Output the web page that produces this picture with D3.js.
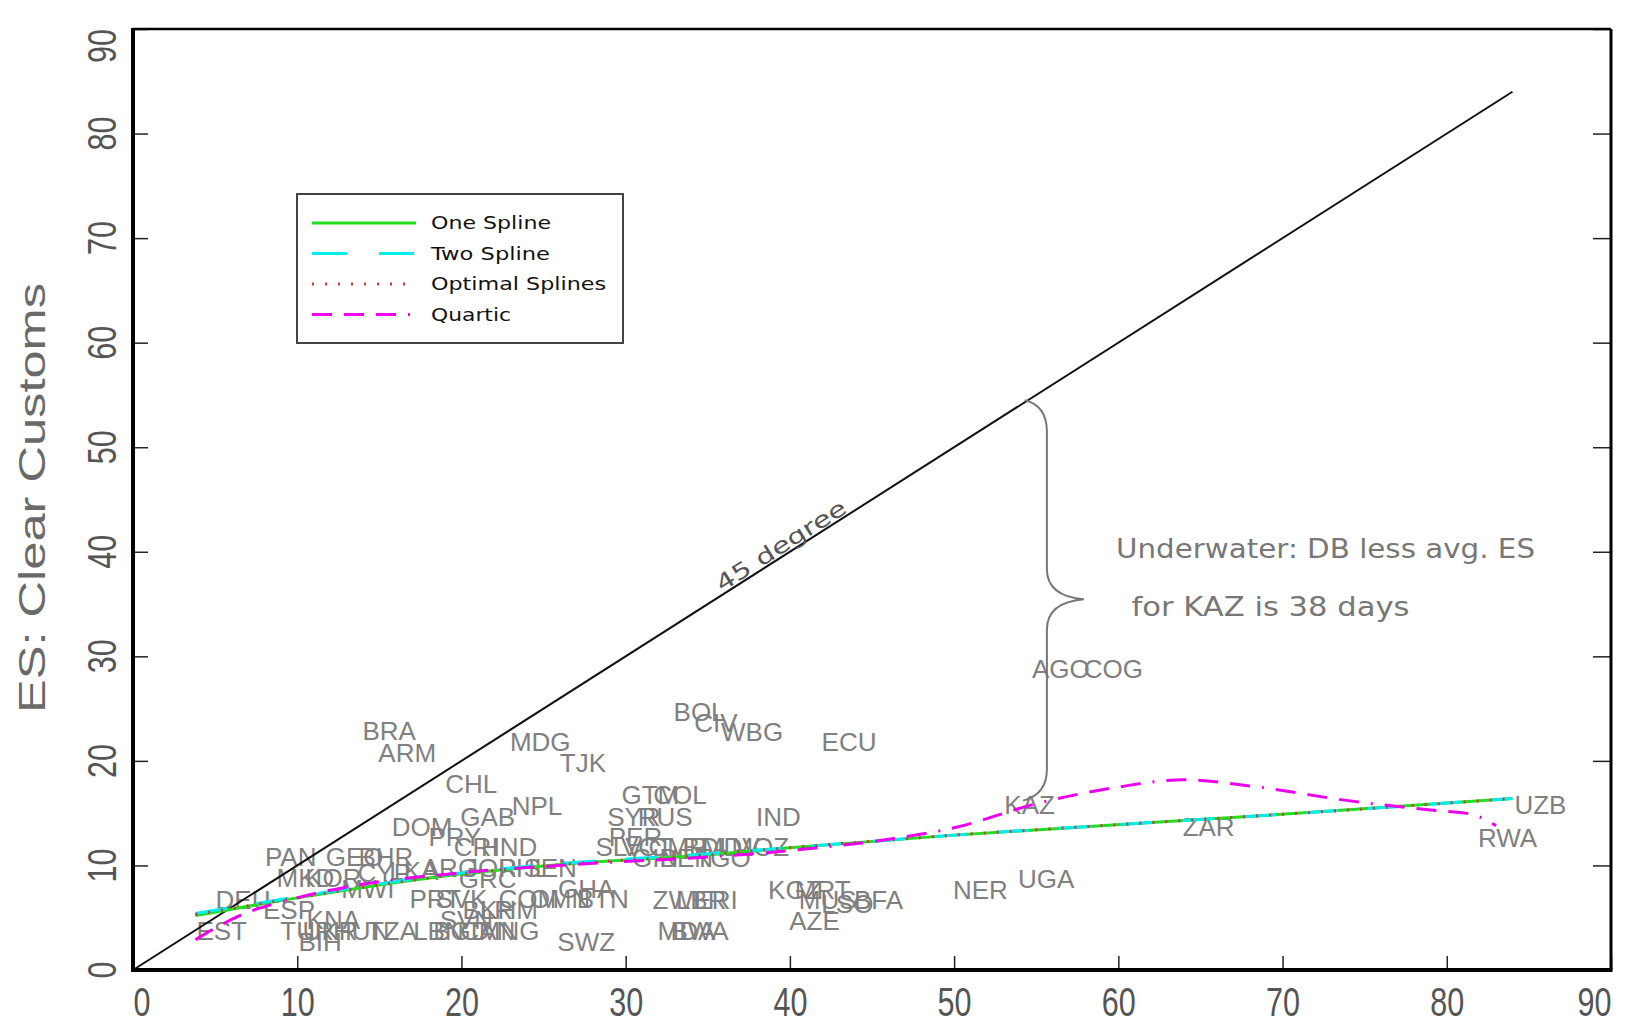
<!DOCTYPE html>
<html>
<head>
<meta charset="utf-8">
<script src="https://cdn.jsdelivr.net/npm/d3@7"></script>
<style>
  body { margin: 0; background: #fff; }
  svg text { font-family: "Liberation Sans", Arial, sans-serif; }
  .hershey { font-family: "DejaVu Sans", "Liberation Sans", sans-serif; }
</style>
</head>
<body>
<svg id="chart" width="1644" height="1025"></svg>
<script>
// ---- data ----
const xTicks = [0, 10, 20, 30, 40, 50, 60, 70, 80, 90];
const yTicks = [0, 10, 20, 30, 40, 50, 60, 70, 80, 90];

// [code, DB days (x), ES days (y)]
const countries = [
  ["BRA", 15.6, 22.9], ["ARM", 16.7, 20.8], ["MDG", 24.8, 21.8], ["TJK", 27.4, 19.8],
  ["CHL", 20.6, 17.8], ["NPL", 24.6, 15.7], ["GAB", 21.6, 14.7], ["DOM", 17.6, 13.7],
  ["PRY", 19.6, 12.8], ["CRI", 20.9, 11.8], ["HND", 22.9, 11.8], ["PAN", 9.6, 10.8],
  ["GEO", 13.5, 10.8], ["BHR", 15.4, 10.8], ["MKD", 10.5, 8.8], ["KOR", 12.2, 8.8],
  ["CYP", 15.3, 9.3], ["LKA", 17.1, 9.5], ["ARG", 19.3, 9.8], ["JOR", 21.8, 9.8],
  ["PHL", 23.8, 9.8], ["SEN", 25.4, 9.8], ["MWI", 14.3, 7.8], ["GRC", 21.6, 8.7],
  ["DEU", 6.7, 6.7], ["PRT", 18.4, 6.8], ["SVK", 20.0, 6.8], ["COM", 24.1, 6.8],
  ["OMN", 26.0, 6.8], ["BTN", 28.6, 6.8], ["GHA", 27.6, 7.8], ["ESP", 9.5, 5.8],
  ["KNA", 12.2, 4.8], ["BLR", 21.6, 5.8], ["KHM", 22.9, 5.8], ["SVN", 20.3, 4.8],
  ["EST", 5.4, 3.8], ["TUR", 10.6, 3.8], ["UKR", 12.0, 3.8], ["HUN", 13.9, 3.8],
  ["TZA", 15.8, 3.8], ["LBN", 18.6, 3.8], ["BGD", 20.0, 3.8], ["CAN", 21.6, 3.8],
  ["MNG", 22.9, 3.8], ["BIH", 11.4, 2.7], ["SWZ", 27.6, 2.7],
  ["GTM", 31.5, 16.8], ["COL", 33.3, 16.8], ["SYR", 30.5, 14.7], ["RUS", 32.4, 14.7],
  ["PER", 30.6, 12.8], ["SLV", 29.6, 11.8], ["VCT", 31.3, 11.8], ["CMR", 33.2, 11.8],
  ["BDI", 34.8, 11.8], ["MDV", 36.4, 11.8], ["MOZ", 38.2, 11.8], ["GIN", 31.8, 10.7],
  ["BEN", 33.7, 10.7], ["TGO", 35.9, 10.7], ["IND", 39.3, 14.7], ["BOL", 34.5, 24.7],
  ["CIV", 35.5, 23.7], ["WBG", 37.7, 22.8], ["ECU", 43.6, 21.8], ["ZWE", 33.4, 6.7],
  ["LBR", 34.6, 6.7], ["ERI", 35.5, 6.7], ["MDA", 33.7, 3.8], ["BWA", 34.5, 3.8],
  ["KGZ", 40.3, 7.7], ["MRT", 42.0, 7.7], ["MUS", 42.3, 6.7], ["LSO", 43.5, 6.3],
  ["BFA", 45.4, 6.7], ["AZE", 41.5, 4.7], ["NER", 51.6, 7.7], ["UGA", 55.6, 8.7],
  ["AGO", 56.5, 28.8], ["COG", 59.7, 28.8], ["KAZ", 54.6, 15.8], ["ZAR", 65.5, 13.7],
  ["UZB", 85.7, 15.8], ["RWA", 83.7, 12.7]
];

const oneSpline = [[3.8, 5.2], [10, 6.9], [19, 9.0], [27, 10.2], [34, 10.9], [40, 11.7],
  [50, 12.9], [62, 14.1], [72, 15.1], [84, 16.4]];
const twoSpline = [[3.8, 5.4], [10, 7.0], [19, 9.1], [27, 10.3], [34, 11.0], [40, 11.7],
  [50, 12.9], [62, 14.1], [72, 15.1], [84, 16.4]];
const optimalSplines = [[3.8, 5.3], [10, 6.9], [19, 9.0], [27, 10.2], [34, 10.9], [40, 11.7],
  [50, 12.9], [62, 14.1], [72, 15.1], [84, 16.4]];
const quartic = [[3.8, 2.9], [6.5, 5.2], [10, 6.9], [14, 8.2], [20, 9.3], [28, 10.2],
  [35, 10.8], [40.5, 11.5], [46, 12.5], [50, 13.6], [55, 15.9], [60, 17.5], [64, 18.2],
  [68, 17.6], [74, 16.2], [79, 15.3], [81.5, 14.9], [83, 13.8]];
const diagonal = [[0, 0], [84, 84]];

// KAZ gap: 45 degree line down to the fitted curve
const kazGap = { x: 54.4, top: 54.5, bottom: 16.2, tipX: 57.9 };

const legendNames = ["One Spline", "Two Spline", "Optimal Splines", "Quartic"];
const noteLines = ["Underwater: DB less avg. ES", "for KAZ is 38 days"];

// ---- drawing ----
const svg = d3.select("#chart");
const x = d3.scaleLinear().domain([0, 90]).range([133, 1611]);
const y = d3.scaleLinear().domain([0, 90]).range([970, 29]);

const gray = "#808080";

// bottom ticks + labels
const xAxis = svg.append("g")
  .attr("transform", `translate(0,${y(0)})`)
  .call(d3.axisBottom(x).tickValues(xTicks).tickSize(-14).tickPadding(18));
xAxis.select(".domain").remove();
xAxis.selectAll("line").attr("stroke", "#222").attr("stroke-width", 1.5);
xAxis.selectAll("text")
  .attr("font-size", 40)
  .attr("fill", "#555")
  .attr("font-family", "Liberation Sans, Arial, sans-serif")
  .attr("text-anchor", d => d === 0 ? "start" : d === 90 ? "end" : "middle")
  .attr("textLength", d => String(d).length * 17)
  .attr("lengthAdjust", "spacingAndGlyphs");

// left ticks
const yAxis = svg.append("g")
  .attr("transform", `translate(${x(0)},0)`)
  .call(d3.axisLeft(y).tickValues(yTicks).tickSize(-15).tickFormat(""));
yAxis.select(".domain").remove();
yAxis.selectAll("line").attr("stroke", "#222").attr("stroke-width", 1.5);

// right ticks
const rAxis = svg.append("g")
  .attr("transform", `translate(${x(90)},0)`)
  .call(d3.axisRight(y).tickValues(yTicks).tickSize(-18).tickFormat(""));
rAxis.select(".domain").remove();
rAxis.selectAll("line").attr("stroke", "#222").attr("stroke-width", 1.5);

// rotated y tick labels
svg.append("g").selectAll("text")
  .data(yTicks)
  .join("text")
  .attr("transform", d => `translate(116,${y(d)}) rotate(-90)`)
  .attr("text-anchor", d => d === 90 ? "end" : "middle")
  .attr("font-size", 41)
  .attr("fill", "#555")
  .attr("textLength", d => String(d).length * 17)
  .attr("lengthAdjust", "spacingAndGlyphs")
  .text(d => d);

// y title
svg.append("text")
  .attr("transform", "translate(45,498) rotate(-90)")
  .attr("text-anchor", "middle")
  .attr("font-size", 36)
  .attr("fill", "#6a6a6a")
  .attr("textLength", 430)
  .attr("lengthAdjust", "spacingAndGlyphs")
  .text("ES:  Clear Customs");

// country labels
svg.append("g").selectAll("text")
  .data(countries)
  .join("text")
  .attr("x", d => x(d[1]))
  .attr("y", d => y(d[2]))
  .attr("dy", "0.36em")
  .attr("text-anchor", "middle")
  .attr("font-size", 26)
  .attr("fill", gray)
  .text(d => d[0]);

// 45 degree line
const line = d3.line().x(d => x(d[0])).y(d => y(d[1]));
svg.append("path").datum(diagonal)
  .attr("d", line).attr("fill", "none").attr("stroke", "#111").attr("stroke-width", 2);

const angle = Math.atan2(y(84) - y(0), x(84) - x(0)) * 180 / Math.PI;
svg.append("text")
  .attr("class", "hershey")
  .attr("transform", `translate(${x(39.45)},${y(40.6)}) rotate(${angle})`)
  .attr("text-anchor", "middle")
  .attr("dy", "0.35em")
  .attr("font-size", 22)
  .attr("fill", "#555")
  .attr("textLength", 150)
  .attr("lengthAdjust", "spacingAndGlyphs")
  .text("45 degree");

// fitted curves
const curve = d3.line().x(d => x(d[0])).y(d => y(d[1])).curve(d3.curveMonotoneX);
const series = [
  { data: oneSpline, color: "#22dd22", width: 3, dash: null },
  { data: twoSpline, color: "#00eeee", width: 3, dash: "32,30" },
  { data: optimalSplines, color: "#d03a3a", width: 3, dash: "2,11" },
  { data: quartic, color: "#ee00ee", width: 3, dash: "20,12,20,12,20,12,2,12" }
];
svg.append("g").selectAll("path")
  .data(series)
  .join("path")
  .attr("d", d => curve(d.data))
  .attr("fill", "none")
  .attr("stroke", d => d.color)
  .attr("stroke-width", d => d.width)
  .attr("stroke-dasharray", d => d.dash);

// brace for KAZ
const bx = x(kazGap.x + 1.25);
const midY = (kazGap.top + kazGap.bottom) / 2;
const bp = d3.path();
bp.moveTo(x(kazGap.x - 0.1), y(kazGap.top));
bp.quadraticCurveTo(bx, y(kazGap.top - 0.5), bx, y(kazGap.top - 3));
bp.lineTo(bx, y(midY + 3));
bp.quadraticCurveTo(bx, y(midY + 0.4), x(kazGap.tipX), y(midY + 0.1));
bp.quadraticCurveTo(bx, y(midY - 0.2), bx, y(midY - 2.8));
bp.lineTo(bx, y(kazGap.bottom + 3));
bp.quadraticCurveTo(bx, y(kazGap.bottom + 0.6), x(kazGap.x - 0.2), y(kazGap.bottom));
svg.append("path")
  .attr("d", bp.toString())
  .attr("fill", "none")
  .attr("stroke", "#777")
  .attr("stroke-width", 2);

// note
const notePos = [[59.86, 40.3, 419], [60.8, 34.8, 278]];
svg.append("g").selectAll("text")
  .data(noteLines)
  .join("text")
  .attr("class", "hershey")
  .attr("x", (d, i) => x(notePos[i][0]))
  .attr("y", (d, i) => y(notePos[i][1]))
  .attr("dy", "0.36em")
  .attr("font-size", 26)
  .attr("fill", "#777")
  .attr("textLength", (d, i) => notePos[i][2])
  .attr("lengthAdjust", "spacingAndGlyphs")
  .text(d => d);

// frame
const frame = svg.append("g").attr("stroke", "#000").attr("fill", "none");
frame.append("line").attr("x1", x(0)).attr("x2", x(90)).attr("y1", y(90)).attr("y2", y(90)).attr("stroke-width", 2.5);
frame.append("line").attr("x1", x(90)).attr("x2", x(90)).attr("y1", y(90)).attr("y2", y(0)).attr("stroke-width", 3);
frame.append("line").attr("x1", x(0)).attr("x2", x(0)).attr("y1", y(90) - 1).attr("y2", y(0) + 2).attr("stroke-width", 4);
frame.append("line").attr("x1", x(0) - 2).attr("x2", x(90) + 1.5).attr("y1", y(0)).attr("y2", y(0)).attr("stroke-width", 4);

// legend
const legend = svg.append("g").attr("transform", "translate(297,194)");
legend.append("rect")
  .attr("width", 326).attr("height", 149)
  .attr("fill", "#fff").attr("stroke", "#444").attr("stroke-width", 2);
const textLens = [120, 119, 175, 80];
const rows = legend.selectAll("g.row")
  .data(series)
  .join("g")
  .attr("class", "row")
  .attr("transform", (d, i) => `translate(0,${29 + i * 30.5})`);
rows.append("line")
  .attr("x1", 15).attr("x2", 119)
  .attr("stroke", d => d.color)
  .attr("stroke-width", 3)
  .attr("stroke-dasharray", (d, i) => i === 1 ? "35,32" : d.dash);
rows.append("text")
  .attr("class", "hershey")
  .attr("x", 134)
  .attr("dy", "0.36em")
  .attr("font-size", 18)
  .attr("fill", "#111")
  .attr("textLength", (d, i) => textLens[i])
  .attr("lengthAdjust", "spacingAndGlyphs")
  .text((d, i) => legendNames[i]);
</script>
</body>
</html>
